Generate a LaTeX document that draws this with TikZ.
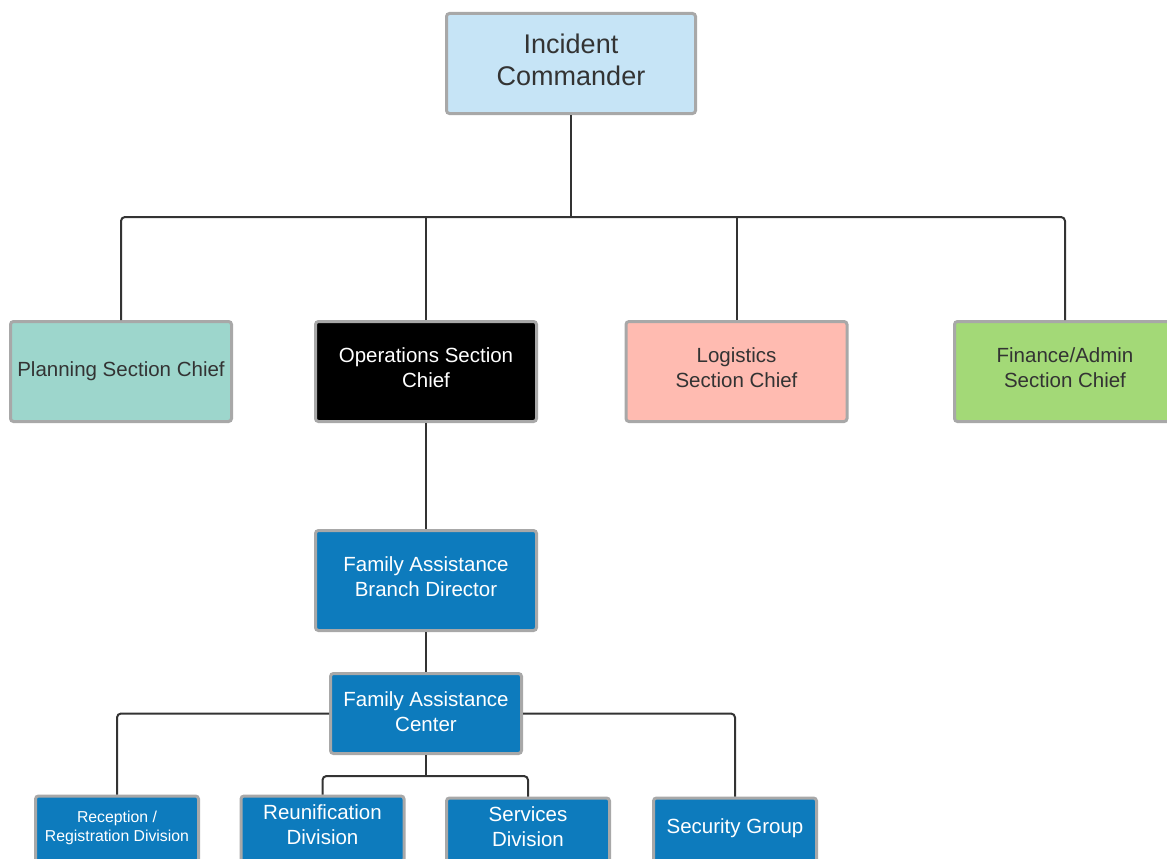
\documentclass[tikz,border=0pt]{standalone}
\usepackage{fontspec}
\setmainfont{Liberation Sans}
\definecolor{boxborder}{HTML}{A8A8A8}
\definecolor{linegray}{HTML}{333333}
\definecolor{textgray}{HTML}{333333}
\definecolor{commanderfill}{HTML}{C6E4F6}
\definecolor{planningfill}{HTML}{9DD6CC}
\definecolor{logisticsfill}{HTML}{FFBBB1}
\definecolor{financefill}{HTML}{A3D977}
\definecolor{bluefill}{HTML}{0D7BBD}
\begin{document}
\begin{tikzpicture}[x=1pt, y=-1pt,
  box/.style = {rectangle, draw=boxborder, line width=3pt, rounded corners=3pt, inner sep=0pt,
                align=center, text=textgray, text depth=8pt, font=\fontsize{20.5}{24.6}\selectfont},
  section/.style = {box, minimum width=221pt, minimum height=100pt},
  bluebox/.style = {box, fill=bluefill, text=white},
  division/.style = {bluebox, minimum width=163pt, minimum height=66pt, text depth=9pt},
  link/.style = {draw=linegray, line width=2pt, rounded corners=4pt}]
  \useasboundingbox [fill=white] (0, 0) rectangle (1167, 859);

  % Command.
  \node at (571, 63.5) [box, fill=commanderfill, minimum width=249pt, minimum height=100pt,
        font=\fontsize{27}{32.4}\selectfont, name=Commander] {Incident\\Commander};

  % Sections.
  \node at (121, 371.5) [section, fill=planningfill, text depth=5pt, name=Planning] {Planning Section Chief};
  \node at (426, 371.5) [section, fill=black, text=white, name=Operations] {Operations Section\\Chief};
  \node at (736.5, 371.5) [section, fill=logisticsfill, name=Logistics] {Logistics\\Section Chief};
  \node at (1065, 371.5) [section, fill=financefill, name=Finance] {Finance/Admin\\Section Chief};

  % Family assistance.
  \node at (426, 580.5) [bluebox, minimum width=221pt, minimum height=100pt, name=Branch] {Family Assistance\\Branch Director};
  \node at (426, 713.5) [bluebox, minimum width=191pt, minimum height=80pt, text depth=4pt, name=Center] {Family Assistance\\Center};

  % Divisions.
  \node at (117, 829) [division, font=\fontsize{15.8}{19}\selectfont, text depth=5pt, name=Reception] {Reception /\\Registration Division};
  \node at (322.5, 829) [division, name=Reunification] {Reunification\\Division};
  \node at (528, 831) [division, name=Services] {Services\\Division};
  \node at (735, 831) [division, text depth=10pt, name=Security] {Security Group};

  % Branch points.
  \coordinate (sectionsplit) at (571, 217);
  \coordinate (divisionsplit) at (426, 776);

  % Connectors.
  \draw [link] (Commander) -- (sectionsplit);
  \draw [link] (Planning.north) |- (sectionsplit) -| (Finance.north);
  \draw [link] (Operations.north) -- (Operations.north |- sectionsplit);
  \draw [link] (Logistics.north) -- (Logistics.north |- sectionsplit);
  \draw [link] (Operations) -- (Branch);
  \draw [link] (Branch) -- (Center);
  \draw [link] (Center.west) -| (Reception.north);
  \draw [link] (Center.east) -| (Security.north);
  \draw [link] (Center.south) -- (divisionsplit);
  \draw [link] (Reunification.north) |- (divisionsplit) -| (Services.north);
\end{tikzpicture}
\end{document}
